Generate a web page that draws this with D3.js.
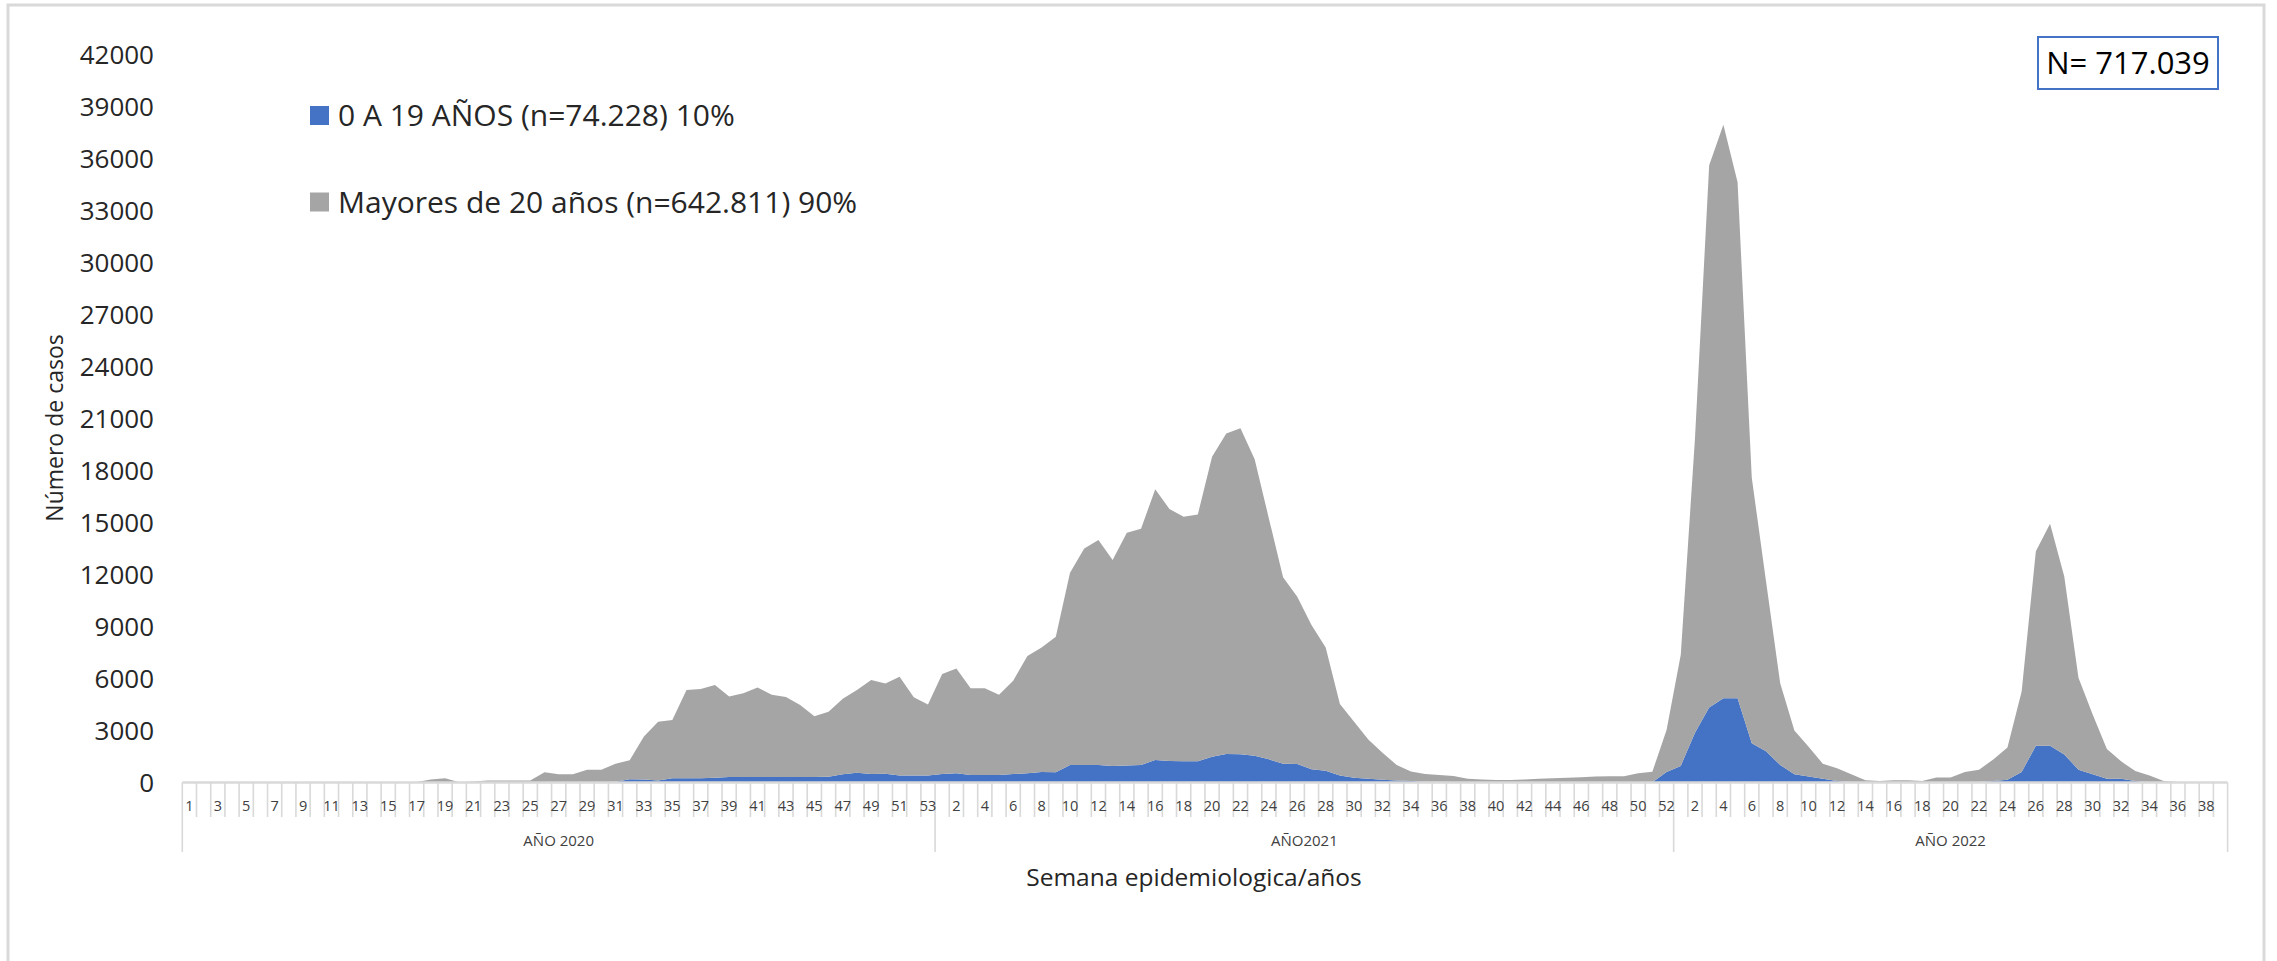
<!DOCTYPE html>
<html><head><meta charset="utf-8">
<script src="https://cdn.jsdelivr.net/npm/d3@7"></script>
<style>body{margin:0;background:#fff;} svg{display:block;font-family:'Open Sans',sans-serif;}</style>
</head><body><svg id="c" width="2277" height="961"></svg>
<script>
// ---- data ----
const yearLabels = ["AÑO 2020", "AÑO2021", "AÑO 2022"];
const weeks2020 = [1,2,3,4,5,6,7,8,9,10,11,12,13,14,15,16,17,18,19,20,21,22,23,24,25,26,27,28,29,30,31,32,33,34,35,36,37,38,39,40,41,42,43,44,45,46,47,48,49,50,51,52,53];
const weeks2021 = [1,2,3,4,5,6,7,8,9,10,11,12,13,14,15,16,17,18,19,20,21,22,23,24,25,26,27,28,29,30,31,32,33,34,35,36,37,38,39,40,41,42,43,44,45,46,47,48,49,50,51,52];
const weeks2022 = [1,2,3,4,5,6,7,8,9,10,11,12,13,14,15,16,17,18,19,20,21,22,23,24,25,26,27,28,29,30,31,32,33,34,35,36,37,38,39];

// 0 A 19 AÑOS
const ninos2020 = [0,0,0,0,0,0,0,0,0,0, 0,0,0,0,0,0,0,0,0,0, 0,0,0,0,0,0,0,0,0,
  20,50,190,180,110,240,250,250,270, 320,320,320,320,320,320,320, 330,480,560,490,500,400,400,400];
const ninos2021 = [490,530,440,440,440,490,530,610,590,1010, 1010,1010,950,980,1010,1300,1240,1220,1220,1490,
  1650,1630,1550,1340,1090,1070,760,680,410,280, 220,160,110,90,50,40,30,20,20,20,
  20,20,20,20,20,20,20,20,20,20, 20,610];
const ninos2022 = [960,2870,4330,4860,4860,2260,1810,1010,480,350, 210,80,30,10,10,10,10,10,20,20,
  20,30,80,160,610,2120,2120,1620,740,480, 210,210,80,20,0,0,0,0,0];

// Mayores de 20 años
const adultos2020 = [0,0,0,0,0,0,0,0,0,0, 0,0,0,0,0,0, 30,170,250,20,60,110,110,110,120,
  590,470,470,740,720,1040,1090,2470,3400,3370, 5090,5150,5360,4640,4830,5160,4750,4620,4150,3500,
  3760,4360,4780,5430,5220,5710,4520,4110];
const adultos2021 = [5770,6060,5000,5000,4630,5390,6770,7190,7830,11100, 12510,12990,11900,13440,13640,15640,14550,14130,14260,17320,
  18510,18820,17110,13910,10760,9660,8330,7120,4120,3230, 2270,1560,900,540,440,390,350,200,160,120,
  120,160,200,220,260,280,320,340,340,510, 600,2420];
const adultos2022 = [6420,17000,31310,33120,29800,15340,9820,4720,2520,1720, 880,740,450,120,70,120,120,70,270,270,
  590,710,1250,1860,4650,11230,12820,10270,5310,3450, 1730,1010,580,380,80,30,20,0,0];

const yTicks = [0,3000,6000,9000,12000,15000,18000,21000,24000,27000,30000,33000,36000,39000,42000];
const seriesNames = ["0 A 19 AÑOS (n=74.228) 10%", "Mayores de 20 años (n=642.811) 90%"];
const totalLabel = "N= 717.039";
const yTitle = "Número de casos";
const xTitle = "Semana epidemiologica/años";

// ---- build table ----
const groups = [
  {label: yearLabels[0], weeks: weeks2020, ninos: ninos2020, adultos: adultos2020},
  {label: yearLabels[1], weeks: weeks2021, ninos: ninos2021, adultos: adultos2021},
  {label: yearLabels[2], weeks: weeks2022, ninos: ninos2022, adultos: adultos2022}
];
const cats = [];
groups.forEach((g, gi) => g.weeks.forEach((w, wi) => cats.push({key: gi + "-" + w, week: w, group: gi, ninos: g.ninos[wi], adultos: g.adultos[wi]})));

const colors = {ninos: "#4472C4", adultos: "#A5A5A5"};
const svg = d3.select("#c");
svg.append("rect").attr("width", 2277).attr("height", 961).attr("fill", "#fff");
svg.append("rect").attr("x", 8).attr("y", 5).attr("width", 2256).attr("height", 1100)
  .attr("fill", "none").attr("stroke", "#d9d9d9").attr("stroke-width", 3);

const x = d3.scaleBand().domain(cats.map(d => d.key)).range([182.3, 2227.6]).padding(0);
const y = d3.scaleLinear().domain([0, 42000]).range([782.5, 55.2]);
const cx = k => x(k) + x.bandwidth() / 2;

const stacked = d3.stack().keys(["ninos", "adultos"])(cats);
const area = d3.area().x(d => cx(d.data.key)).y0(d => y(d[0])).y1(d => y(d[1]));
svg.append("g").selectAll("path").data(stacked).join("path")
  .attr("d", area).attr("fill", d => colors[d.key]);

// x axis
const ax = svg.append("g");
const y0 = y(0);
ax.append("line").attr("x1", x.range()[0]).attr("x2", x.range()[1]).attr("y1", y0).attr("y2", y0)
  .attr("stroke", "#d9d9d9").attr("stroke-width", 2.5);
const groupStarts = new Set();
let acc = 0; groups.forEach(g => { groupStarts.add(acc); acc += g.weeks.length; }); groupStarts.add(acc);
for (let k = 0; k <= cats.length; k++) {
  const xp = k < cats.length ? x(cats[k].key) : x.range()[1];
  ax.append("line").attr("x1", xp).attr("x2", xp).attr("y1", y0).attr("y2", groupStarts.has(k) ? 852 : 817)
    .attr("stroke", "#d9d9d9").attr("stroke-width", 1.6);
}
cats.forEach((d, i) => {
  if (i % 2 === 0) ax.append("text").attr("x", cx(d.key)).attr("y", 811).attr("text-anchor", "middle")
    .attr("font-size", 14.5).attr("fill", "#404040").text(d.week);
});
acc = 0;
groups.forEach(g => {
  const a = x(cats[acc].key), b = acc + g.weeks.length < cats.length ? x(cats[acc + g.weeks.length].key) : x.range()[1];
  ax.append("text").attr("x", (a + b) / 2).attr("y", 846).attr("text-anchor", "middle")
    .attr("font-size", 15).attr("fill", "#404040").text(g.label);
  acc += g.weeks.length;
});

// y labels
svg.append("g").selectAll("text").data(yTicks).join("text")
  .attr("x", 154).attr("y", d => y(d) + 9.2).attr("text-anchor", "end")
  .attr("font-size", 26).attr("fill", "#262626").text(d => d);

// titles
svg.append("text").attr("transform", "translate(55,428) rotate(-90)").attr("text-anchor", "middle")
  .attr("dy", "0.35em").attr("font-size", 23).attr("fill", "#262626").text(yTitle);
svg.append("text").attr("x", 1194).attr("y", 886).attr("text-anchor", "middle")
  .attr("font-size", 24.5).attr("fill", "#262626").text(xTitle);

// legend
const leg = [{c: colors.ninos, t: seriesNames[0], yc: 115.5}, {c: colors.adultos, t: seriesNames[1], yc: 202}];
leg.forEach(l => {
  svg.append("rect").attr("x", 310).attr("y", l.yc - 9.5).attr("width", 19).attr("height", 19).attr("fill", l.c);
  svg.append("text").attr("x", 338).attr("y", l.yc + 10.7).attr("font-size", 30).attr("fill", "#262626").text(l.t);
});

// N box
svg.append("rect").attr("x", 2038).attr("y", 37).attr("width", 180).attr("height", 52)
  .attr("fill", "#fff").attr("stroke", "#4472C4").attr("stroke-width", 2);
svg.append("text").attr("x", 2128).attr("y", 74).attr("text-anchor", "middle")
  .attr("font-size", 31).attr("fill", "#000").text(totalLabel);
</script></body></html>
